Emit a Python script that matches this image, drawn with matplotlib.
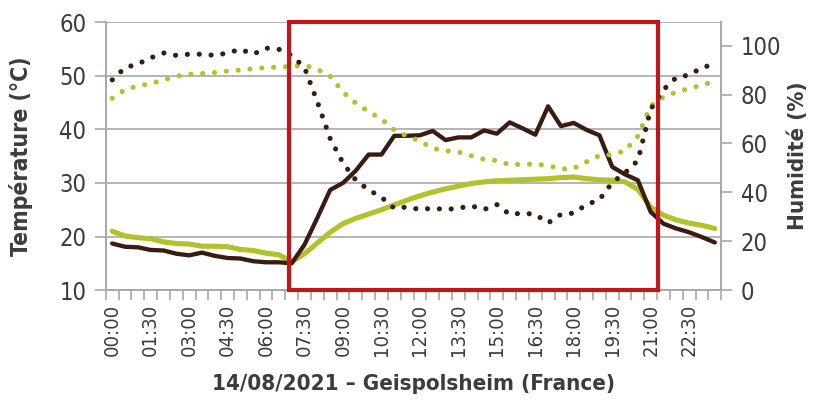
import matplotlib
matplotlib.use('Agg')
import matplotlib.pyplot as plt
from matplotlib.patches import Rectangle
import matplotlib.transforms as mtransforms

plt.rcParams['font.family'] = ['DejaVu Sans']
plt.rcParams['font.stretch'] = 'condensed'

# half-hourly time slots, 00:00 -> 23:30
TIMES = [f'{h:02d}:{m:02d}' for h in range(24) for m in (0, 30)]

# temperatures (degC), left axis
temp_brown = [18.7, 18.1, 18.0, 17.5, 17.4, 16.8, 16.5, 17.0, 16.4, 16.0, 15.9, 15.4,
              15.2, 15.2, 15.0, 18.5, 23.5, 28.7, 30.0, 32.3, 35.3, 35.3, 38.8, 38.8,
              38.9, 39.7, 38.0, 38.5, 38.5, 39.8, 39.2, 41.3, 40.2, 39.0, 44.3, 40.6,
              41.2, 39.9, 38.9, 33.0, 31.6, 30.5, 24.6, 22.4, 21.5, 20.8, 19.9, 18.9]
temp_green = [21.0, 20.1, 19.8, 19.6, 19.0, 18.7, 18.6, 18.2, 18.2, 18.1, 17.6, 17.4,
              16.9, 16.6, 15.3, 16.8, 18.8, 20.8, 22.4, 23.4, 24.2, 25.0, 25.9, 26.8,
              27.6, 28.3, 28.9, 29.4, 29.9, 30.2, 30.4, 30.5, 30.6, 30.7, 30.8, 31.0,
              31.1, 30.8, 30.6, 30.5, 30.2, 28.8, 25.5, 24.0, 23.1, 22.5, 22.1, 21.5]

# relative humidity (%), right axis
hum_brown = [86, 91, 92.5, 95, 97, 96, 96.5, 96.5, 96, 97, 98.5, 96.5,
             99, 98.5, 96, 91, 77, 62, 52, 45, 41, 38, 33.5, 34,
             33, 33.5, 33, 33.5, 34.5, 33, 35, 31, 31.5, 31, 27.5, 31,
             31.5, 35, 37, 44, 48, 53, 74, 82, 87, 88, 91, 92.5]
hum_green = [78.5, 82, 83.5, 84.5, 86, 87.5, 88.3, 88.6, 89, 89.6, 90, 90.6,
             91, 91.2, 91.5, 92, 90.3, 87.5, 81, 76.5, 73, 70, 65.5, 63,
             61, 58, 57, 56.5, 55, 53.5, 53, 51.3, 51.5, 51.5, 51, 49.5,
             49.8, 52.5, 55, 55.5, 57, 63, 75.4, 79, 81, 82.5, 83.8, 85.5]

# highlighted period (in slot units)
HIGHLIGHT = (13.8, 42.55)

BROWN = '#3b1a10'
GREEN = '#b3c22a'
RED = '#c4141b'
GRID = '#a8a8a8'
TEXT = '#3c3c3c'

fig = plt.figure(figsize=(8.14, 4.03), dpi=100)
ax = fig.add_axes([0.130, 0.280, 0.756, 0.665])
ax2 = ax.twinx()

x = list(range(len(TIMES)))
dots = dict(linestyle=(0, (0.01, 2.3)), dash_capstyle='round', linewidth=3.7)

ax.plot(x, temp_green, color=GREEN, linewidth=3.7, solid_capstyle='round', zorder=3)
ax.plot(x, temp_brown, color=BROWN, linewidth=3.1, solid_capstyle='round', zorder=4)
ax2.plot(x, hum_green, color=GREEN, **dots)
ax2.plot(x, hum_brown, color=BROWN, **dots)

ax.set_xlim(-0.5, len(TIMES) - 0.5)
ax.set_ylim(10, 60)
ax2.set_ylim(0, 109.6)

ax.set_yticks([10, 20, 30, 40, 50, 60])
ax2.set_yticks([0, 20, 40, 60, 80, 100])
ax.set_xticks([i - 0.5 for i in range(len(TIMES) + 1)], minor=True)
ax.set_xticks(x[::3])
ax.set_xticklabels(TIMES[::3], rotation=90)

ax.grid(axis='y', color=GRID, linewidth=1.2)
ax.set_axisbelow(True)
for a in (ax, ax2):
    for side, sp in a.spines.items():
        sp.set_color(GRID)
        sp.set_linewidth(1.2)
    a.spines['top'].set_visible(False)

ax.tick_params(axis='y', length=8, width=1.2, color=GRID, labelsize=17,
               labelcolor=TEXT, pad=6)
ax2.tick_params(axis='y', length=8, width=1.2, color=GRID, labelsize=17,
                labelcolor=TEXT, pad=6)
ax.tick_params(axis='x', which='major', length=0, labelsize=14.5, labelcolor=TEXT, pad=10)
ax.tick_params(axis='x', which='minor', length=7, width=1.2, color=GRID)

ax.set_ylabel('Température (°C)', fontsize=16.5, fontweight='bold', color=TEXT)
ax.yaxis.set_label_coords(-0.118, 0.5)
ax2.set_ylabel('Humidité (%)', fontsize=16, fontweight='bold', color=TEXT)
ax2.yaxis.set_label_coords(1.108, 0.5)
ax.set_xlabel('14/08/2021 – Geispolsheim (France)', fontsize=16, fontweight='bold',
              color=TEXT, labelpad=13)

trans = mtransforms.blended_transform_factory(ax.transData, ax.transAxes)
ax2.add_patch(Rectangle((HIGHLIGHT[0], 0), HIGHLIGHT[1] - HIGHLIGHT[0], 1,
                        transform=trans, fill=False, edgecolor=RED,
                        linewidth=3.0, clip_on=False, zorder=10))

fig.savefig('out.png', dpi=100)
